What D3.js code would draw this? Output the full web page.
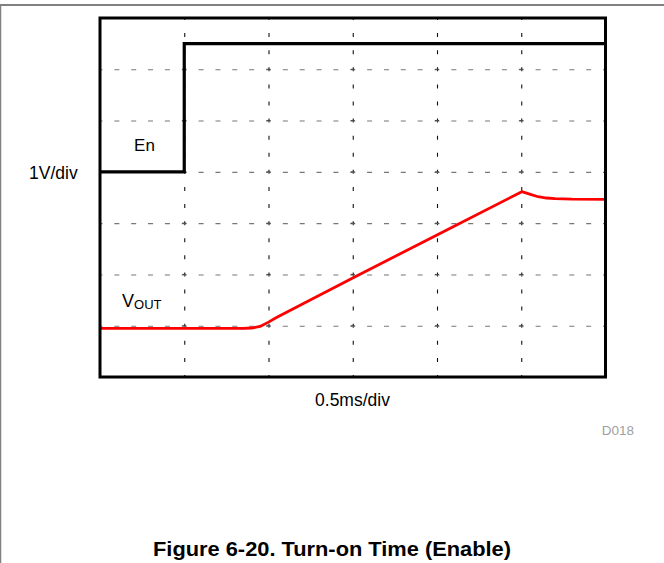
<!DOCTYPE html>
<html>
<head>
<meta charset="utf-8">
<script src="https://cdn.jsdelivr.net/npm/d3@7"></script>
<style>
html,body{margin:0;padding:0;background:#fff;}
svg{display:block;font-family:"Liberation Sans",Arial,Helvetica,sans-serif;}
</style>
</head>
<body>
<svg id="c" width="664" height="563"></svg>
<script>
// ---- data (time in ms, level in divisions of 1 V) ----
const enTime   = [0, 0.5, 0.5, 3.0];
const enLevel  = [4.0, 4.0, 6.5, 6.5];
const voutTime  = [0, 0.85, 0.90, 0.95, 1.00, 1.05, 1.50, 2.00, 2.503, 2.55, 2.60, 2.65, 2.70, 2.80, 3.00];
const voutLevel = [0.95, 0.95, 0.955, 0.985, 1.07, 1.165, 1.93, 2.77, 3.613, 3.565, 3.515, 3.49, 3.48, 3.47, 3.465];
const xGridTicks = [0.5, 1.0, 1.5, 2.0, 2.5];
const yGridTicks = [1, 2, 3, 4, 5, 6];
const xLabel = "0.5ms/div";
const yLabel = "1V/div";
const enName = "En";
const codeLabel = "D018";
const title = "Figure 6-20. Turn-on Time (Enable)";

const svg = d3.select("#c");
const L = 100, T = 18, R = 605.5, B = 377;
const W = R - L, H = B - T;

// page border lines
svg.append("line").attr("x1",0).attr("x2",664).attr("y1",5).attr("y2",5)
  .attr("stroke","#808080").attr("stroke-width",2);
svg.append("line").attr("x1",0.5).attr("x2",0.5).attr("y1",4).attr("y2",563)
  .attr("stroke","#808080").attr("stroke-width",1.5);

const x = d3.scaleLinear().domain([0, 3]).range([0, W]);
const y = d3.scaleLinear().domain([0, 7]).range([H, 0]);

const g = svg.append("g").attr("transform", `translate(${L},${T})`);

// vertical grid
const xg = g.append("g").attr("transform", `translate(0,${H})`)
  .call(d3.axisBottom(x).tickValues(xGridTicks).tickSize(-H).tickFormat(""));
xg.select(".domain").remove();
const ydiv = H / 7;
xg.selectAll(".tick line").attr("stroke","#111").attr("stroke-width",1.1)
  .attr("stroke-dasharray", `4,${(ydiv/3-4).toFixed(3)}`).attr("stroke-dashoffset",2);

// horizontal grid
const yg = g.append("g")
  .call(d3.axisLeft(y).tickValues(yGridTicks).tickSize(-W).tickFormat(""));
yg.select(".domain").remove();
const xdiv = W / 6;
yg.selectAll(".tick line").attr("stroke","#777").attr("stroke-width",1.1)
  .attr("stroke-dasharray", `5,${(xdiv/5-5).toFixed(3)}`).attr("stroke-dashoffset",2.5);

// small crosses on the vertical grid lines at horizontal grid crossings
const cross = [];
xGridTicks.forEach(t => yGridTicks.forEach(v => cross.push([t, v])));
g.selectAll(".cr").data(cross).enter().append("line")
  .attr("x1", d => x(d[0]) - 2).attr("x2", d => x(d[0]) + 2)
  .attr("y1", d => y(d[1])).attr("y2", d => y(d[1]))
  .attr("stroke","#444").attr("stroke-width",1);

// traces
const en = enTime.map((t,i)=>[t, enLevel[i]]);
const vout = voutTime.map((t,i)=>[t, voutLevel[i]]);
const line = d3.line().x(d=>x(d[0])).y(d=>y(d[1]));

g.append("path").datum(vout).attr("d", line.curve(d3.curveLinear))
  .attr("fill","none").attr("stroke","#ff0000").attr("stroke-width",2.8)
  .attr("stroke-linejoin","round");
g.append("path").datum(en).attr("d", d3.line().x(d=>x(d[0])).y(d=>y(d[1])))
  .attr("fill","none").attr("stroke","#000").attr("stroke-width",3.2)
  .attr("stroke-linejoin","miter");

// frame
g.append("rect").attr("x",0).attr("y",0).attr("width",W).attr("height",H)
  .attr("fill","none").attr("stroke","#000").attr("stroke-width",3);

// labels
svg.append("text").attr("x",29).attr("y",178.5).attr("font-size",17.5)
  .attr("fill","#000").text(yLabel);
svg.append("text").attr("x",144.5).attr("y",150.5).attr("text-anchor","middle")
  .attr("font-size",17).attr("fill","#000").text(enName);
const vt = svg.append("text").attr("x",122).attr("y",306.5).attr("font-size",18).attr("fill","#000");
vt.append("tspan").text("V");
vt.append("tspan").attr("font-size",13).attr("dy",2).text("OUT");
svg.append("text").attr("x",352.5).attr("y",406).attr("text-anchor","middle")
  .attr("font-size",17.5).attr("fill","#000").text(xLabel);
svg.append("text").attr("x",634).attr("y",435).attr("text-anchor","end")
  .attr("font-size",13.5).attr("fill","#a0a0a0").text(codeLabel);
svg.append("text").attr("x",332).attr("y",556).attr("text-anchor","middle")
  .attr("font-family","'Liberation Sans Narrow','Liberation Sans',Arial,sans-serif")
  .attr("font-size",21).attr("font-weight","bold").attr("fill","#000")
  .attr("textLength",358).attr("lengthAdjust","spacingAndGlyphs").text(title);
</script>
</body>
</html>
